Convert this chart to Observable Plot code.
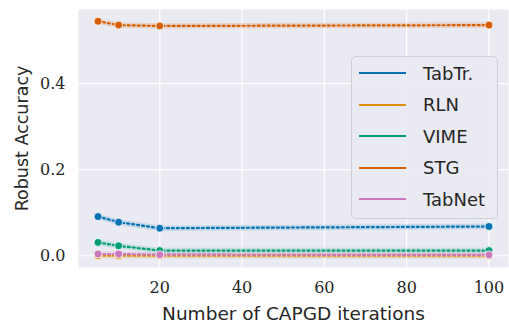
<!DOCTYPE html>
<html><head><meta charset="utf-8">
<script src="https://cdn.jsdelivr.net/npm/d3@7"></script>
<script src="https://cdn.jsdelivr.net/npm/@observablehq/plot@0.6"></script>
<style>
body{margin:0;background:#fff;}
#wrap{position:relative;width:509px;height:327px;}
#legend{position:absolute;left:351px;top:56px;width:147px;height:163px;border:1px solid #cfcfd6;border-radius:5px;background:rgba(234,234,242,0.85);box-sizing:border-box;font-family:"DejaVu Sans",sans-serif;font-size:18px;color:#262626;}
.row{position:absolute;left:0;height:22px;display:flex;align-items:center;}
.sw{width:47px;height:2px;margin-left:7px;margin-right:17px;}
</style></head>
<body><div id="wrap"><div id="legend"></div></div>
<script>
const iterations = [5, 10, 20, 100];
const models = ["TabTr.", "RLN", "VIME", "STG", "TabNet"];
const colors = ["#0173b2", "#de8f05", "#029e73", "#d55e00", "#cc78bc"];
const tabtr = [0.091, 0.078, 0.064, 0.068];
const rln = [0.0, 0.0, 0.0, 0.0];
const vime = [0.031, 0.023, 0.012, 0.012];
const stg = [0.545, 0.536, 0.534, 0.536];
const tabnet = [0.004, 0.004, 0.0025, 0.002];
const yTicks = [0.0, 0.2, 0.4];
const xTicks = [20, 40, 60, 80, 100];

const series = [tabtr, rln, vime, stg, tabnet];
const data = [];
models.forEach((m, i) => iterations.forEach((x, j) => data.push({model: m, x, y: series[i][j]})));

const chart = Plot.plot({
  width: 509, height: 327,
  marginLeft: 78, marginRight: 1, marginTop: 9, marginBottom: 60,
  style: {background: "transparent", fontFamily: "DejaVu Serif, serif", fontSize: "16px", color: "#262626"},
  x: {domain: [0.25, 104.75]},
  y: {domain: [-0.0273, 0.5723]},
  color: {domain: models, range: colors},
  marks: [
    Plot.frame({fill: "#eaeaf2", stroke: null}),
    Plot.gridX({ticks: xTicks, stroke: "#fff", strokeOpacity: 1, strokeWidth: 1.2}),
    Plot.gridY({ticks: yTicks, stroke: "#fff", strokeOpacity: 1, strokeWidth: 1.2}),
    Plot.axisX({ticks: xTicks, tickSize: 0, tickPadding: 14, tickFormat: d => String(d), fontSize: 16, label: null}),
    Plot.axisY({ticks: yTicks, tickSize: 0, tickPadding: 13, tickFormat: d3.format(".1f"), fontSize: 16, label: null}),
    Plot.axisX({ticks: [], label: "Number of CAPGD iterations", labelAnchor: "center", labelOffset: 52, labelArrow: "none", fontFamily: "DejaVu Sans, sans-serif", fontSize: 18.5}),
    Plot.axisY({ticks: [], label: "Robust Accuracy", labelAnchor: "center", labelOffset: 63, labelArrow: "none", fontFamily: "DejaVu Sans, sans-serif", fontSize: 17.5}),
    Plot.line(data, {x: "x", y: "y", z: "model", stroke: "model", strokeWidth: 5.5, strokeOpacity: 0.17, curve: "linear"}),
    Plot.line(data, {x: "x", y: "y", z: "model", stroke: "model", strokeWidth: 2.2, strokeDasharray: "2,3", curve: "linear"}),
    Plot.dot(data, {x: "x", y: "y", fill: "model", stroke: "#fff", strokeWidth: 0.8, r: 4})
  ]
});
document.getElementById("wrap").prepend(chart);

const leg = document.getElementById("legend");
models.forEach((m, i) => {
  const r = document.createElement("div");
  r.className = "row";
  r.style.top = (5 + i * 31.6) + "px";
  r.innerHTML = `<div class="sw" style="background:${colors[i]}"></div><span>${m}</span>`;
  leg.appendChild(r);
});
</script></body></html>
